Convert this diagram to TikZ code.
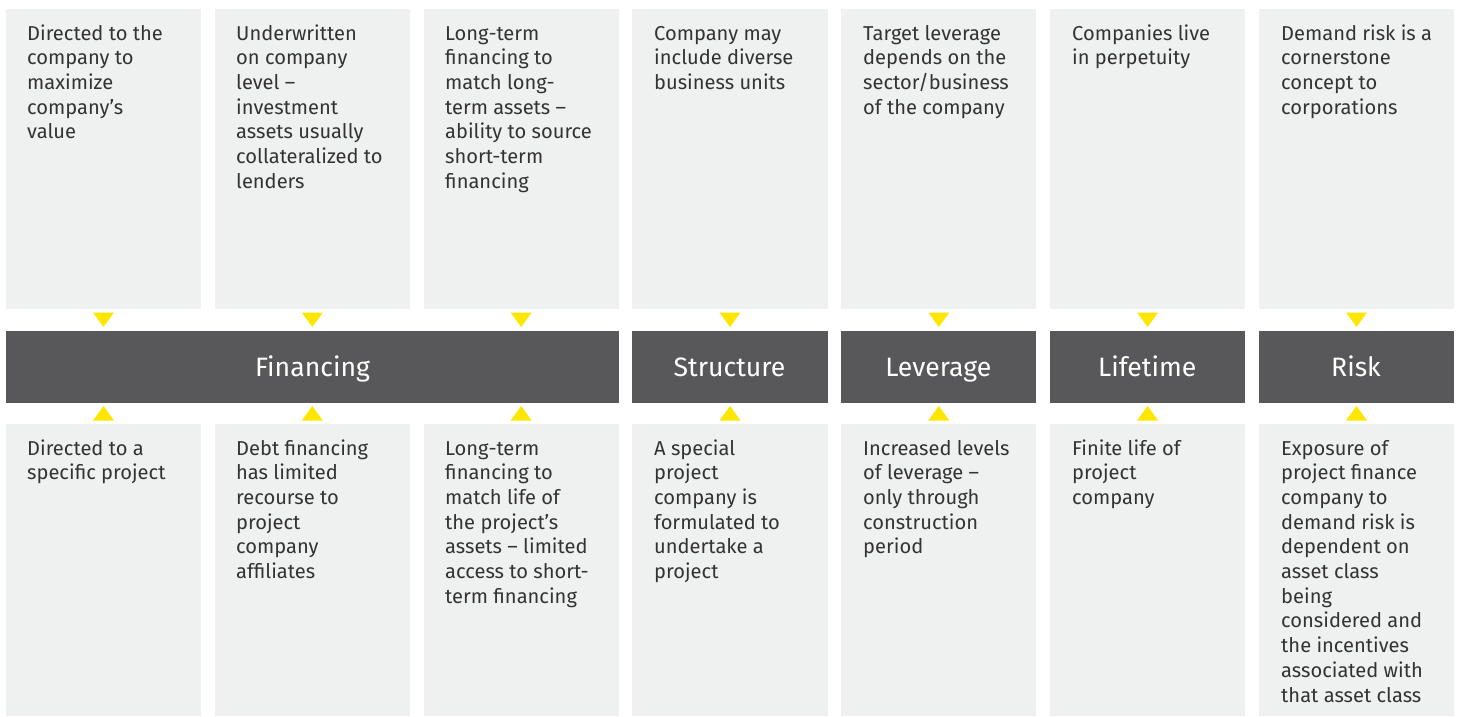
\documentclass[tikz,border=0pt]{standalone}
\usepackage{fontspec}
\setmainfont{Fira Sans}
\definecolor{boxgrey}{HTML}{EFF0F0}
\definecolor{bargrey}{HTML}{58585A}
\definecolor{eyyellow}{HTML}{FFE600}
\definecolor{txtgrey}{HTML}{333333}
\newcommand\cellbox[1]{\parbox[t]{190pt}{\raggedright\fontsize{20.1}{24.7}\selectfont #1}}
\tikzset{
  panel/.style={fill=boxgrey, draw=none},
  bar/.style={fill=bargrey, draw=none},
  celltext/.style={anchor=base west, inner sep=0pt, text=txtgrey, font=\fontsize{20.1}{24.7}\selectfont},
  bartext/.style={anchor=base, text=white, inner sep=0pt, font=\fontsize{26.6}{30}\selectfont},
  tri/.style={fill=eyyellow, draw=none}
}
\begin{document}
\begin{tikzpicture}[x=1pt,y=-1pt]
\useasboundingbox (0,0) rectangle (1459,716);
\def\colw{195}
\def\pitch{208.83}
% columns
\foreach \i in {0,...,6}{
  \pgfmathsetmacro\xl{6+\pitch*\i}
  \pgfmathsetmacro\xr{\xl+\colw}
  \pgfmathsetmacro\xc{\xl+\colw/2}
  \fill[panel] (\xl,9) rectangle (\xr,308.5);
  \fill[panel] (\xl,424) rectangle (\xr,716);
  \fill[tri] (\xc-10.5,312.5) -- (\xc+10.5,312.5) -- (\xc,327) -- cycle;
  \fill[tri] (\xc-10.5,420.5) -- (\xc+10.5,420.5) -- (\xc,406) -- cycle;
}
% bars
\fill[bar] (6,331) rectangle (619,402.5);
\foreach \i in {3,...,6}{
  \pgfmathsetmacro\xl{6+\pitch*\i}
  \fill[bar] (\xl,331) rectangle (\xl+\colw,402.5);
}
\node[bartext] (finance) at (312.5,376.5) {Financing};
\node[bartext] (structure) at (729.5,376.5) {Structure};
\node[bartext] (leverage) at (938.3,376.5) {Leverage};
\node[bartext] (lifetime) at (1147.2,376.5) {Lifetime};
\node[bartext] (risk) at (1356,376.5) {Risk};
% top texts
\node[celltext] (t1) at (27,40) {\cellbox{Directed to the\\company to\\maximize\\company’s\\value}};
\node[celltext] (t2) at (236,40) {\cellbox{Underwritten\\on company\\level –\\investment\\assets usually\\collateralized to\\lenders}};
\node[celltext] (t3) at (445,40) {\cellbox{Long-term\\financing to\\match long-\\term assets –\\ability to source\\short-term\\financing}};
\node[celltext] (t4) at (654,40) {\cellbox{Company may\\include diverse\\business units}};
\node[celltext] (t5) at (863,40) {\cellbox{Target leverage\\depends on the\\sector/business\\of the company}};
\node[celltext] (t6) at (1072,40) {\cellbox{Companies live\\in perpetuity}};
\node[celltext] (t7) at (1281,40) {\cellbox{Demand risk is a\\cornerstone\\concept to\\corporations}};
% bottom texts
\node[celltext] (b1) at (27,455) {\cellbox{Directed to a\\specific project}};
\node[celltext] (b2) at (236,455) {\cellbox{Debt financing\\has limited\\recourse to\\project\\company\\affiliates}};
\node[celltext] (b3) at (445,455) {\cellbox{Long-term\\financing to\\match life of\\the project’s\\assets – limited\\access to short-\\term financing}};
\node[celltext] (b4) at (654,455) {\cellbox{A special\\project\\company is\\formulated to\\undertake a\\project}};
\node[celltext] (b5) at (863,455) {\cellbox{Increased levels\\of leverage –\\only through\\construction\\period}};
\node[celltext] (b6) at (1072,455) {\cellbox{Finite life of\\project\\company}};
\node[celltext] (b7) at (1281,455) {\cellbox{Exposure of\\project finance\\company to\\demand risk is\\dependent on\\asset class\\being\\considered and\\the incentives\\associated with\\that asset class}};
\end{tikzpicture}
\end{document}
